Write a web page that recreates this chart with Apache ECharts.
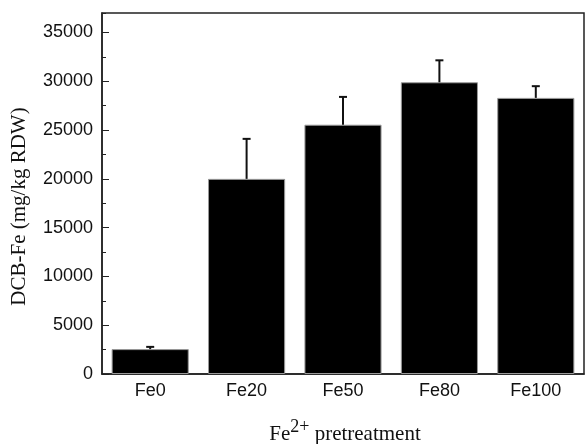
<!DOCTYPE html>
<html>
<head>
<meta charset="utf-8">
<script src="https://cdn.jsdelivr.net/npm/echarts@6/dist/echarts.min.js"></script>
<style>
  html, body { margin: 0; padding: 0; background: #fff; }
  #main { width: 585px; height: 444px; }
</style>
</head>
<body>
<div id="main"></div>
<script>
// values
var categories = ['Fe0', 'Fe20', 'Fe50', 'Fe80', 'Fe100'];
var means = [2550, 20000, 25550, 29900, 28300];
var errTops = [2780, 24100, 28400, 32150, 29500];

var chart = echarts.init(document.getElementById('main'));

var errData = categories.map(function (c, i) {
  return [i, means[i], errTops[i]];
});

var axisColor = '#222';

var option = {
  animation: false,
  grid: {
    left: 102, right: 1, top: 13, bottom: 70,
    outerBoundsMode: 'none',
    show: true, borderColor: axisColor, borderWidth: 1.5
  },
  xAxis: {
    type: 'category',
    data: categories,
    name: '{a|Fe}{sup|2+}{a| pretreatment}',
    nameLocation: 'middle',
    nameGap: 44,
    nameTextStyle: {
      padding: [0, 0, 0, 4],
      rich: {
        a: { fontFamily: 'Liberation Serif', fontSize: 21, color: '#111', verticalAlign: 'bottom' },
        sup: { fontFamily: 'Liberation Serif', fontSize: 18, color: '#111', verticalAlign: 'bottom', padding: [0, 0, 9, 0] }
      }
    },
    axisLine: { lineStyle: { color: axisColor, width: 1.5 } },
    axisTick: { inside: true, length: 4, lineStyle: { color: axisColor } },
    axisLabel: { fontFamily: 'Liberation Sans', fontSize: 18, color: '#111', margin: 8 }
  },
  yAxis: [
    {
      type: 'value',
      min: 0, max: 37000, interval: 5000,
      name: 'DCB-Fe (mg/kg RDW)',
      nameLocation: 'middle',
      nameGap: 72,
      nameTextStyle: { fontFamily: 'Liberation Serif', fontSize: 21, color: '#111', padding: [0, 26, 0, 0] },
      splitLine: { show: false },
      axisLine: { show: true, lineStyle: { color: axisColor, width: 1.5 } },
      axisTick: { show: true, inside: true, length: 7, lineStyle: { color: axisColor } },
      axisLabel: {
        fontFamily: 'Liberation Sans', fontSize: 18, color: '#111', margin: 9,
        showMaxLabel: false,
        formatter: function (v) { return String(v); }
      }
    },
    {
      // minor ticks only
      type: 'value',
      position: 'left',
      offset: 0,
      min: 0, max: 37000, interval: 2500,
      splitLine: { show: false },
      axisLine: { show: false },
      axisTick: { show: true, inside: true, length: 4, lineStyle: { color: axisColor } },
      axisLabel: { show: false }
    }
  ],
  series: [
    {
      type: 'bar',
      data: means,
      barCategoryGap: '20%',
      itemStyle: { color: '#000', borderColor: '#999', borderWidth: 1 }
    },
    {
      type: 'custom',
      data: errData,
      z: 5,
      renderItem: function (params, api) {
        var i = api.value(0);
        var base = api.coord([i, api.value(1)]);
        var top = api.coord([i, api.value(2)]);
        var half = 4;
        var st = { stroke: '#111', lineWidth: 2 };
        return {
          type: 'group',
          children: [
            { type: 'line', shape: { x1: base[0], y1: base[1], x2: top[0], y2: top[1] }, style: st },
            { type: 'line', shape: { x1: top[0] - half, y1: top[1], x2: top[0] + half, y2: top[1] }, style: st }
          ]
        };
      }
    }
  ]
};

chart.setOption(option);
</script>
</body>
</html>
